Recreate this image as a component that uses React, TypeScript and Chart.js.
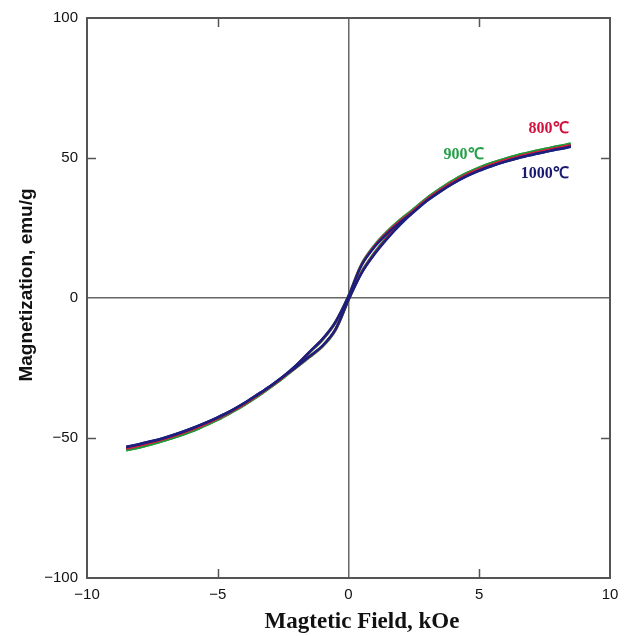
import React, { useEffect, useRef } from "react";
import { Chart, registerables } from "chart.js";

Chart.register(...registerables);

// Applied field (kOe), shared by every branch
const field = [-8.5, -8, -7.5, -7, -6.5, -6, -5.5, -5, -4.5, -4, -3.5, -3, -2.5, -2, -1.5, -1, -0.5, 0, 0.5, 1, 1.5, 2, 2.5, 3, 3.5, 4, 4.5, 5, 5.5, 6, 6.5, 7, 7.5, 8, 8.5];

// Magnetization (emu/g) — 800 ℃
const m800Upper = [-53.7, -52.7, -51.5, -50.2, -48.7, -47.0, -45.1, -43.0, -40.6, -37.9, -34.9, -31.7, -28.2, -24.1, -19.4, -14.8, -8.7, 0.6, 11.9, 18.6, 23.6, 27.7, 31.3, 35.2, 38.5, 41.4, 43.9, 46.0, 47.7, 49.2, 50.5, 51.6, 52.6, 53.6, 54.5];
const m800Lower = [-53.7, -52.7, -51.5, -50.2, -48.7, -47.0, -45.1, -43.0, -40.6, -37.9, -34.9, -31.7, -28.2, -24.7, -21.0, -17.2, -11.3, -0.6, 9.1, 16.0, 21.8, 26.9, 31.3, 35.2, 38.5, 41.4, 43.9, 46.0, 47.7, 49.2, 50.5, 51.6, 52.6, 53.6, 54.5];
// 900 ℃
const m900Upper = [-54.3, -53.3, -52.1, -50.7, -49.2, -47.5, -45.5, -43.4, -40.9, -38.2, -35.2, -31.9, -28.4, -24.2, -19.5, -14.9, -8.7, 0.6, 12.0, 18.8, 23.9, 28.1, 31.7, 35.6, 38.9, 41.9, 44.4, 46.5, 48.2, 49.7, 51.0, 52.1, 53.1, 54.1, 55.0];
const m900Lower = [-54.3, -53.3, -52.1, -50.7, -49.2, -47.5, -45.5, -43.4, -40.9, -38.2, -35.2, -31.9, -28.4, -24.8, -21.1, -17.3, -11.4, -0.6, 9.2, 16.2, 22.1, 27.3, 31.7, 35.6, 38.9, 41.9, 44.4, 46.5, 48.2, 49.7, 51.0, 52.1, 53.1, 54.1, 55.0];
// 1000 ℃
const m1000Upper = [-53.2, -52.2, -51.1, -49.8, -48.3, -46.6, -44.7, -42.6, -40.3, -37.6, -34.6, -31.5, -28.0, -24.0, -19.3, -14.7, -8.6, 0.6, 11.7, 18.3, 23.2, 27.2, 30.8, 34.7, 38.0, 40.9, 43.4, 45.5, 47.2, 48.7, 50.0, 51.1, 52.1, 53.1, 54.0];
const m1000Lower = [-53.2, -52.2, -51.1, -49.8, -48.3, -46.6, -44.7, -42.6, -40.3, -37.6, -34.6, -31.5, -28.0, -24.6, -20.9, -17.1, -11.2, -0.6, 8.9, 15.7, 21.4, 26.4, 30.8, 34.7, 38.0, 40.9, 43.4, 45.5, 47.2, 48.7, 50.0, 51.1, 52.1, 53.1, 54.0];

const seriesNames = ["800℃", "900℃", "1000℃"];
const xTicks = [-10, -5, 0, 5, 10];
const yTicks = [-100, -50, 0, 50, 100];
const xMinorInside = [-5, 5];
const yMinorInside = [-50, 50];

const xTitle = "Magtetic Field, kOe";
const yTitle = "Magnetization, emu/g";

const RED = "#d81c3c";
const GREEN = "#1f9a3a";
const NAVY = "#1b1f7e";

function pts(ys: number[]) {
  return field.map((x, i) => ({ x, y: ys[i] }));
}

const labelSpecs = [
  { text: seriesNames[0], x: 7.65, y: 60.3, color: "#d4103c" },
  { text: seriesNames[1], x: 4.4, y: 51.2, color: "#27a04a" },
  { text: seriesNames[2], x: 7.5, y: 44.2, color: "#1a1a72" },
];

const decorPlugin = {
  id: "decor",
  afterDatasetsDraw(chart: any) {
    const { ctx, chartArea: a, scales } = chart;
    const xs = scales.x;
    const ys = scales.y;
    ctx.save();
    // frame
    ctx.strokeStyle = "#555";
    ctx.lineWidth = 2;
    ctx.strokeRect(a.left, a.top, a.right - a.left, a.bottom - a.top);
    // inside ticks
    ctx.lineWidth = 1.5;
    ctx.strokeStyle = "#555";
    const len = 9;
    xMinorInside.forEach((v) => {
      const px = Math.round(xs.getPixelForValue(v)) + 0.5;
      ctx.beginPath();
      ctx.moveTo(px, a.bottom);
      ctx.lineTo(px, a.bottom - len);
      ctx.moveTo(px, a.top);
      ctx.lineTo(px, a.top + len);
      ctx.stroke();
    });
    yMinorInside.forEach((v) => {
      const py = Math.round(ys.getPixelForValue(v)) + 0.5;
      ctx.beginPath();
      ctx.moveTo(a.left, py);
      ctx.lineTo(a.left + len, py);
      ctx.moveTo(a.right, py);
      ctx.lineTo(a.right - len, py);
      ctx.stroke();
    });
    // series labels
    ctx.font = "bold 16px 'Liberation Serif', 'Times New Roman', serif";
    ctx.textAlign = "center";
    ctx.textBaseline = "middle";
    labelSpecs.forEach((l) => {
      ctx.fillStyle = l.color;
      ctx.fillText(l.text, xs.getPixelForValue(l.x), ys.getPixelForValue(l.y));
    });
    // axis titles
    ctx.fillStyle = "#111";
    ctx.font = "bold 23px 'Liberation Serif', 'Times New Roman', serif";
    ctx.fillText(xTitle, 362, 622);
    ctx.save();
    ctx.translate(27, 285);
    ctx.rotate(-Math.PI / 2);
    ctx.font = "bold 19px 'Liberation Sans', Arial, sans-serif";
    ctx.fillText(yTitle, 0, 0);
    ctx.restore();
    ctx.restore();
  },
};

const fmt = (v: number) => (v < 0 ? "\u2212" + Math.abs(v) : String(v));

export default function App() {
  const ref = useRef<HTMLCanvasElement | null>(null);
  useEffect(() => {
    if (!ref.current) return;
    const mk = (label: string, data: number[], color: string, w: number) => ({
      label,
      data: pts(data),
      borderColor: color,
      backgroundColor: color,
      borderWidth: w,
      pointRadius: 0,
      tension: 0.35,
      fill: false,
    });
    const chart = new Chart(ref.current, {
      type: "line",
      data: {
        datasets: [
          mk(seriesNames[2], m1000Upper, NAVY, 2.5),
          mk(seriesNames[2], m1000Lower, NAVY, 2.5),
          mk(seriesNames[0], m800Upper, RED, 2.5),
          mk(seriesNames[0], m800Lower, RED, 2.5),
          mk(seriesNames[1], m900Upper, GREEN, 3),
          mk(seriesNames[1], m900Lower, GREEN, 3),
        ],
      },
      options: {
        animation: false,
        responsive: false,
        devicePixelRatio: 1,
        layout: { padding: { left: 0, top: 16, right: 23, bottom: 0 } },
        plugins: { legend: { display: false }, tooltip: { enabled: false } },
        scales: {
          x: {
            type: "linear",
            min: -10,
            max: 10,
            afterBuildTicks: (s: any) => {
              s.ticks = xTicks.map((v) => ({ value: v }));
            },
            afterFit: (s: any) => {
              s.height = 58;
            },
            border: { display: false },
            grid: {
              drawTicks: false,
              lineWidth: 1.5,
              color: (c: any) => (c.tick && c.tick.value === 0 ? "#666" : "rgba(0,0,0,0)"),
            },
            ticks: {
              padding: 8,
              color: "#111",
              font: { family: "'Liberation Sans', Arial, sans-serif", size: 15 },
              callback: (v: any) => fmt(Number(v)),
              maxRotation: 0,
            },
          },
          y: {
            type: "linear",
            min: -100,
            max: 100,
            afterBuildTicks: (s: any) => {
              s.ticks = yTicks.map((v) => ({ value: v }));
            },
            afterFit: (s: any) => {
              s.width = 87;
            },
            border: { display: false },
            grid: {
              drawTicks: false,
              lineWidth: 1.5,
              color: (c: any) => (c.tick && c.tick.value === 0 ? "#666" : "rgba(0,0,0,0)"),
            },
            ticks: {
              padding: 9,
              color: "#111",
              font: { family: "'Liberation Sans', Arial, sans-serif", size: 15 },
              callback: (v: any) => fmt(Number(v)),
            },
          },
        },
      },
      plugins: [decorPlugin],
    } as any);
    return () => chart.destroy();
  }, []);
  return (
    <div style={{ position: "fixed", left: 0, top: 0, width: 633, height: 636, background: "#fff" }}>
      <canvas ref={ref} width={633} height={636} />
    </div>
  );
}
